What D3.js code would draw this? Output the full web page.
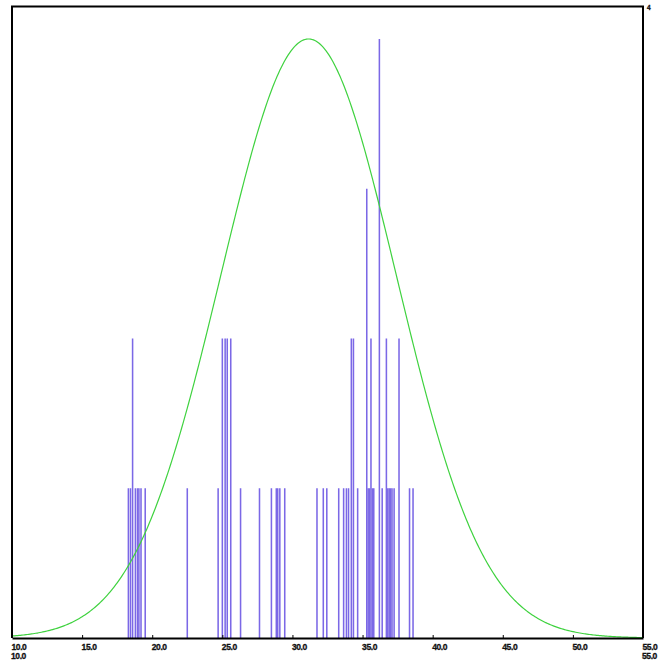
<!DOCTYPE html>
<html>
<head>
<meta charset="utf-8">
<script src="https://cdn.jsdelivr.net/npm/d3@7"></script>
<style>
  html, body { margin: 0; padding: 0; background: #fff; }
  svg { display: block; }
  .lbl { font-family: "Liberation Sans", Arial, sans-serif; font-weight: bold; font-size: 8.5px; fill: #111; stroke: #111; stroke-width: 0.3px; letter-spacing: -0.4px; }
</style>
</head>
<body>
<svg id="chart" width="666" height="663"></svg>
<script>
// Histogram bins (bin position on the x axis) and their counts
const binPositions = [
  18.3, 18.45, 18.6, 18.8, 18.95, 19.05, 19.2, 19.5,
  22.5,
  24.7, 25.0, 25.2, 25.35, 25.6,
  26.3, 27.65, 28.5, 28.85, 28.95, 29.1, 29.45,
  31.75, 32.2, 32.45,
  33.3, 33.65, 33.85, 34.0, 34.2, 34.35, 34.65,
  35.3, 35.4, 35.5, 35.6, 35.7, 35.8,
  36.2, 36.4, 36.7, 36.8, 36.9, 37.0, 37.1, 37.25, 37.6,
  38.35, 38.6
];
const binCounts = [
  1, 1, 2, 1, 1, 1, 1, 1,
  1,
  1, 2, 2, 2, 2,
  1, 1, 1, 1, 1, 1, 1,
  1, 1, 1,
  1, 1, 1, 1, 2, 2, 1,
  3, 1, 1, 2, 1, 1,
  4, 1, 2, 1, 1, 1, 1, 1, 2,
  1, 1
];
const binWidth = 0.11;

// Fitted normal curve parameters
const fitMean = 31.15;
const fitSd = 6.25;
const fitPeak = 4;

// Axis ticks
const xTicks = [10, 15, 20, 25, 30, 35, 40, 45, 50, 55];
const xDomain = [10, 55];
const yMax = 4.217;
const yTopLabel = "4";

const svg = d3.select("#chart");
const plotL = 12, plotR = 643, plotT = 6.5, plotB = 638;

const x = d3.scaleLinear().domain(xDomain).range([plotL, plotR]);
const y = d3.scaleLinear().domain([0, yMax]).range([plotB, plotT]);

// histogram bars
const bins = binPositions.map((p, i) => ({ p, c: binCounts[i] }));
svg.append("g")
  .selectAll("rect")
  .data(bins)
  .join("rect")
  .attr("x", d => x(d.p) - (x(d.p + binWidth) - x(d.p)) / 2)
  .attr("width", d => x(d.p + binWidth) - x(d.p))
  .attr("y", d => y(d.c))
  .attr("height", d => y(0) - y(d.c))
  .attr("fill", "#7b68e6");

// normal curve
const curvePts = d3.range(xDomain[0], xDomain[1] + 0.001, 0.1).map(v => [
  v, fitPeak * Math.exp(-((v - fitMean) ** 2) / (2 * fitSd * fitSd))
]);
svg.append("path")
  .datum(curvePts)
  .attr("fill", "none")
  .attr("stroke", "#3fd23f")
  .attr("stroke-width", 1.2)
  .attr("d", d3.line().x(d => x(d[0])).y(d => y(d[1])));

// frame
svg.append("path")
  .attr("d", `M${plotL},${plotB} V${plotT} H${plotR} V${plotB}`)
  .attr("fill", "none")
  .attr("stroke", "#000")
  .attr("stroke-width", 2);

// x axis
const xAxis = d3.axisBottom(x)
  .tickValues(xTicks)
  .tickSizeInner(-3)
  .tickSizeOuter(0)
  .tickFormat(d3.format(".1f"));
const ax = svg.append("g").attr("transform", `translate(0,${plotB})`).call(xAxis);
ax.select(".domain").attr("stroke", "#000").attr("stroke-width", 2);
ax.selectAll(".tick line").attr("stroke", "#000");
ax.selectAll(".tick text")
  .attr("class", "lbl")
  .attr("text-anchor", "start")
  .attr("x", -1)
  .attr("y", 11.5)
  .attr("dy", null);

// repeated end labels on a second row
[xDomain[0], xDomain[1]].forEach(v => {
  svg.append("text")
    .attr("class", "lbl")
    .attr("x", x(v) - 1)
    .attr("y", plotB + 21)
    .text(d3.format(".1f")(v));
});

// top-right maximum label
svg.append("text")
  .attr("class", "lbl")
  .attr("x", plotR + 4)
  .attr("y", plotT + 3.5)
  .style("font-size", "6.5px")
  .text(yTopLabel);
</script>
</body>
</html>
